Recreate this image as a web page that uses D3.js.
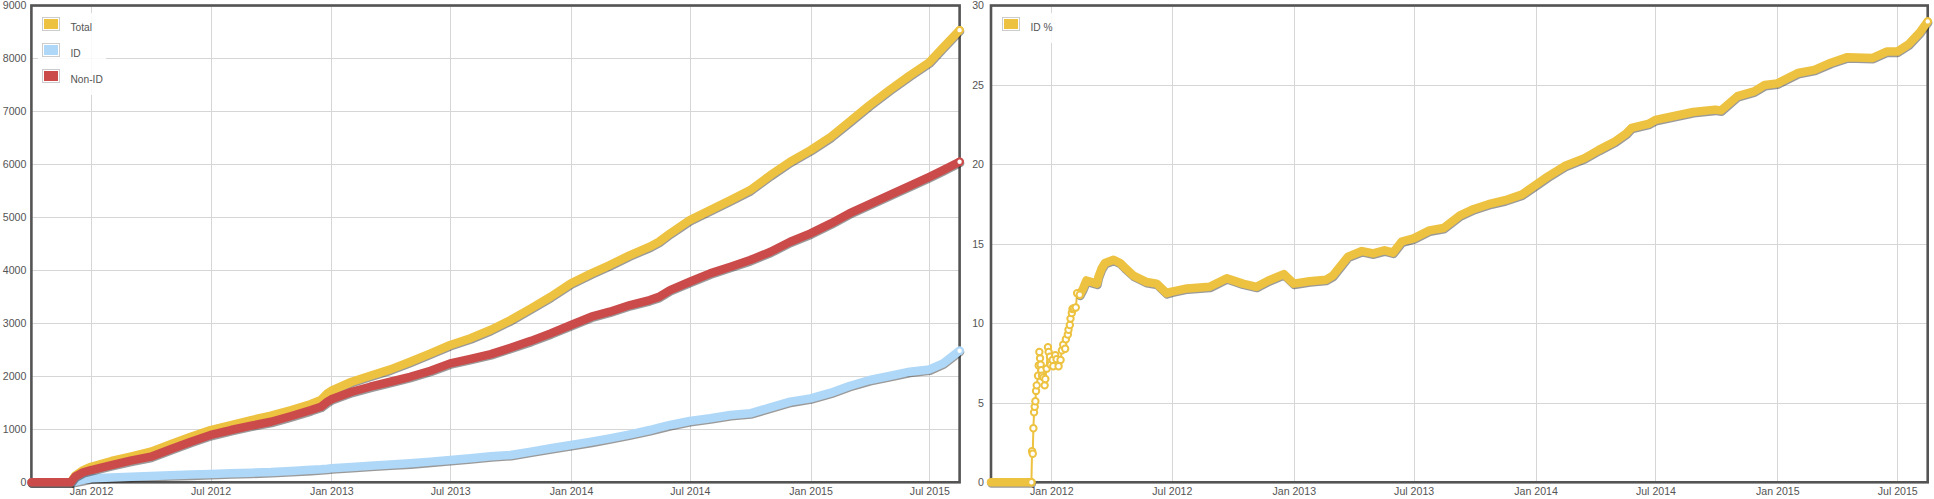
<!DOCTYPE html>
<html><head><meta charset="utf-8">
<script src="https://cdn.jsdelivr.net/npm/d3@7"></script>
<style>
html,body{margin:0;padding:0;background:#fff;overflow:hidden;}
svg{display:block;font-family:"Liberation Sans",Arial,sans-serif;}
</style></head><body>
<svg id="c" width="1934" height="499"></svg>
<script>
// ---------- DATA ----------
const dates = ["2011-10-02","2011-12-01","2011-12-08","2011-12-20",
"2012-01-01","2012-02-01","2012-03-01","2012-04-01","2012-05-01","2012-06-01","2012-07-01","2012-08-01","2012-09-01","2012-10-01","2012-11-01","2012-12-01","2012-12-16","2012-12-26",
"2013-01-01","2013-02-01","2013-03-01","2013-04-01","2013-05-01","2013-06-01","2013-07-01","2013-08-01","2013-09-01","2013-10-01","2013-11-01","2013-12-01",
"2014-01-01","2014-02-01","2014-03-01","2014-04-01","2014-05-01","2014-05-15","2014-06-01","2014-07-01","2014-08-01","2014-09-01","2014-10-01","2014-11-01","2014-12-01",
"2015-01-01","2015-02-01","2015-03-01","2015-04-01","2015-05-01","2015-06-01","2015-07-01","2015-07-22","2015-08-16"];
const totalValues = [0,0,130,230,
294,402,484,578,717,861,987,1081,1175,1257,1364,1477,1553,1679,
1728,1898,2011,2132,2276,2434,2591,2720,2880,3063,3283,3503,
3755,3943,4101,4289,4447,4541,4698,4950,5138,5327,5516,5799,6050,
6270,6522,6805,7119,7403,7680,7930,8210,8535];
const idValues = [0,0,15,45,
75,92,106,120,133,145,157,170,182,194,215,235,245,255,
264,290,313,335,358,390,421,455,490,516,579,642,
704,767,830,906,987,1030,1082,1157,1208,1270,1302,1415,1522,
1585,1692,1818,1931,2006,2088,2130,2245,2484];
const nonIdValues = [0,0,110,190,
232,326,408,484,623,767,893,987,1069,1143,1251,1364,1426,1521,
1566,1709,1804,1898,1992,2106,2245,2330,2420,2540,2670,2811,
2969,3126,3220,3346,3440,3500,3629,3786,3943,4069,4195,4352,4541,
4698,4887,5075,5252,5421,5597,5767,5893,6050];

const pctDates = ["2011-10-02","2011-12-02","2011-12-03","2011-12-04","2011-12-05","2011-12-06","2011-12-07","2011-12-08","2011-12-09","2011-12-10",
"2011-12-12","2011-12-13","2011-12-14","2011-12-15","2011-12-16","2011-12-17","2011-12-18","2011-12-20","2011-12-22","2011-12-23",
"2011-12-25","2011-12-27","2011-12-28","2011-12-30","2011-12-31","2012-01-03","2012-01-04","2012-01-07","2012-01-09","2012-01-12",
"2012-01-15","2012-01-17","2012-01-19","2012-01-22","2012-01-23","2012-01-26","2012-01-27","2012-01-29","2012-01-30","2012-02-01",
"2012-02-02","2012-02-04","2012-02-07","2012-02-09","2012-02-13","2012-02-18","2012-02-23","2012-03-02","2012-03-10","2012-03-12",
"2012-03-17","2012-03-22","2012-04-04","2012-04-14","2012-04-21","2012-05-04","2012-05-24","2012-06-08","2012-06-23","2012-07-01",
"2012-07-24","2012-08-27","2012-09-22","2012-10-16","2012-11-06","2012-11-24","2012-12-17","2013-01-01","2013-01-25","2013-02-19",
"2013-03-01","2013-03-24","2013-04-14","2013-05-01","2013-05-18","2013-05-31","2013-06-13","2013-07-01","2013-07-25","2013-08-15",
"2013-09-09","2013-09-30","2013-10-22","2013-11-16","2013-12-11","2014-01-01","2014-01-20","2014-02-14","2014-03-16","2014-04-06",
"2014-05-01","2014-05-18","2014-05-26","2014-06-20","2014-07-01","2014-07-24","2014-08-27","2014-09-29","2014-10-08","2014-11-02",
"2014-11-27","2014-12-13","2015-01-01","2015-02-01","2015-02-26","2015-03-23","2015-04-17","2015-05-25","2015-06-15","2015-07-01",
"2015-07-18","2015-08-04","2015-08-16"];
const pctValues = [0,0,1.95,1.8,3.4,4.4,4.75,5.1,5.75,6.1,
6.7,7.35,8.2,7.8,7.4,7.05,6.7,6.6,6.1,6.5,
7.15,8.5,8.2,7.9,7.4,7.7,7.3,8.0,7.75,7.3,
7.7,8.3,8.65,8.4,9.0,9.3,9.6,9.9,10.3,10.65,
10.9,10.95,11.0,11.9,11.8,12.2,12.7,12.6,12.5,12.9,
13.45,13.8,14.0,13.8,13.5,13.0,12.6,12.5,11.9,12.0,
12.2,12.3,12.84,12.5,12.3,12.7,13.1,12.5,12.65,12.75,
13.0,14.2,14.55,14.4,14.6,14.45,15.15,15.35,15.85,16.0,
16.8,17.2,17.5,17.75,18.1,18.7,19.25,19.9,20.4,20.9,
21.45,21.95,22.3,22.55,22.8,23.0,23.3,23.45,23.4,24.3,
24.6,25.0,25.1,25.75,25.95,26.4,26.75,26.7,27.1,27.1,
27.55,28.3,29.0];

const xTickDates = ["2012-01-01","2012-07-01","2013-01-01","2013-07-01","2014-01-01","2014-07-01","2015-01-01","2015-07-01"];
const leftTicks = [0,1000,2000,3000,4000,5000,6000,7000,8000,9000];
const rightTicks = [0,5,10,15,20,25,30];
const leftLegend = ["Total","ID","Non-ID"];
const rightLegend = ["ID %"];
const sparseRange = ["2011-12-02","2012-02-13"];

// ---------- DRAW ----------
const parse = d3.timeParse("%Y-%m-%d");
const svg = d3.select("#c");
const domain = [parse(dates[0]), parse(dates[dates.length-1])];
const COL = {total:"#edc240", id:"#afd8f8", nonid:"#cb4b4b"};
const gridColor = "#d6d6d6", borderColor = "#545454", textColor = "#545454";

function panel(o){
  const g = svg.append("g");
  const x = d3.scaleTime().domain(domain).range([o.x0, o.x1]);
  const y = d3.scaleLinear().domain([0, o.yMax]).range([o.y1, o.y0]);

  const gx = g.append("g").attr("transform", `translate(0,${o.y1})`)
    .call(d3.axisBottom(x).tickValues(xTickDates.map(parse))
      .tickFormat(d3.timeFormat("%b %Y")).tickSize(-(o.y1-o.y0)).tickPadding(6));
  gx.select(".domain").remove();
  gx.selectAll("line").attr("stroke", gridColor).attr("stroke-width",1).attr("shape-rendering","crispEdges");
  gx.selectAll("text").attr("fill", textColor).attr("font-size","10.6px")
    .attr("font-family",'"Liberation Sans",Arial,sans-serif').attr("y", 12.9).attr("dy", null);

  const gy = g.append("g").attr("transform", `translate(${o.x0},0)`)
    .call(d3.axisLeft(y).tickValues(o.yTicks).tickFormat(d3.format("d"))
      .tickSize(-(o.x1-o.x0)).tickPadding(o.pad));
  gy.select(".domain").remove();
  gy.selectAll("line").attr("stroke", gridColor).attr("stroke-width",1).attr("shape-rendering","crispEdges");
  gy.selectAll("text").attr("fill", textColor).attr("font-size","10.6px")
    .attr("font-family",'"Liberation Sans",Arial,sans-serif');

  g.append("rect").attr("x",o.x0).attr("y",o.y0).attr("width",o.x1-o.x0).attr("height",o.y1-o.y0)
    .attr("fill","none").attr("stroke",borderColor).attr("stroke-width",2.6);

  const line = d3.line().x(d=>x(d.x)).y(d=>y(d.y));
  o.series.forEach(s=>{
    const pts = s.dates.map((d,i)=>({x:parse(d), y:s.values[i]}));
    let bands = [pts], sparse = [];
    if (s.sparse){
      const a = parse(s.sparse[0]), b = parse(s.sparse[1]);
      bands = [pts.filter(p=>p.x<=a), pts.filter(p=>p.x>=b)];
      sparse = pts.filter(p=>p.x>=a && p.x<=b);
      g.append("path").attr("d", line(sparse)).attr("fill","none")
        .attr("stroke", s.color).attr("stroke-width",2);
    }
    bands.forEach(bp=>{
      g.append("path").attr("d", line(bp)).attr("fill","none")
        .attr("stroke","rgba(30,30,30,0.45)").attr("stroke-width",8.5)
        .attr("stroke-linecap","round").attr("stroke-linejoin","round")
        .attr("transform","translate(0.5,1.3)");
      g.append("path").attr("d", line(bp)).attr("fill","none")
        .attr("stroke", s.color).attr("stroke-width",8.5)
        .attr("stroke-linecap","round").attr("stroke-linejoin","round");
    });
    const circ = sparse.concat([pts[pts.length-1]]);
    g.selectAll(null).data(circ).enter().append("circle")
      .attr("cx",d=>x(d.x)).attr("cy",d=>y(d.y)).attr("r",3.2)
      .attr("fill","#fff").attr("stroke", s.color).attr("stroke-width",2);
  });

  // legend
  const lg = svg.append("g");
  lg.append("rect").attr("x",o.lx-4).attr("y",13).attr("width",o.lw).attr("height",o.legend.length*26+4)
    .attr("fill","#fff").attr("fill-opacity",0.85);
  o.legend.forEach((name,i)=>{
    const yy = 17.5 + i*26;
    lg.append("rect").attr("x",o.lx+0.5).attr("y",yy).attr("width",17).attr("height",13)
      .attr("fill","#fff").attr("stroke","#cccccc").attr("stroke-width",1);
    lg.append("rect").attr("x",o.lx+2).attr("y",yy+1.5).attr("width",14).attr("height",10)
      .attr("fill", o.series[i].color);
    lg.append("text").attr("x",o.lx+28.5).attr("y",yy+13.2).text(name)
      .attr("fill",textColor).attr("font-size","10.2px");
  });
}

panel({x0:31.4, x1:959.6, y0:5.5, y1:482.3, yMax:9000, yTicks:leftTicks, pad:5,
  lx:42, lw:68, legend:leftLegend,
  series:[
    {dates:dates, values:totalValues, color:COL.total},
    {dates:dates, values:idValues, color:COL.id},
    {dates:dates, values:nonIdValues, color:COL.nonid}
  ]});
panel({x0:991, x1:1927.7, y0:5.5, y1:482.3, yMax:30, yTicks:rightTicks, pad:7,
  lx:1002, lw:56, legend:rightLegend,
  series:[
    {dates:pctDates, values:pctValues, color:COL.total, sparse:sparseRange}
  ]});
</script>
</body></html>
